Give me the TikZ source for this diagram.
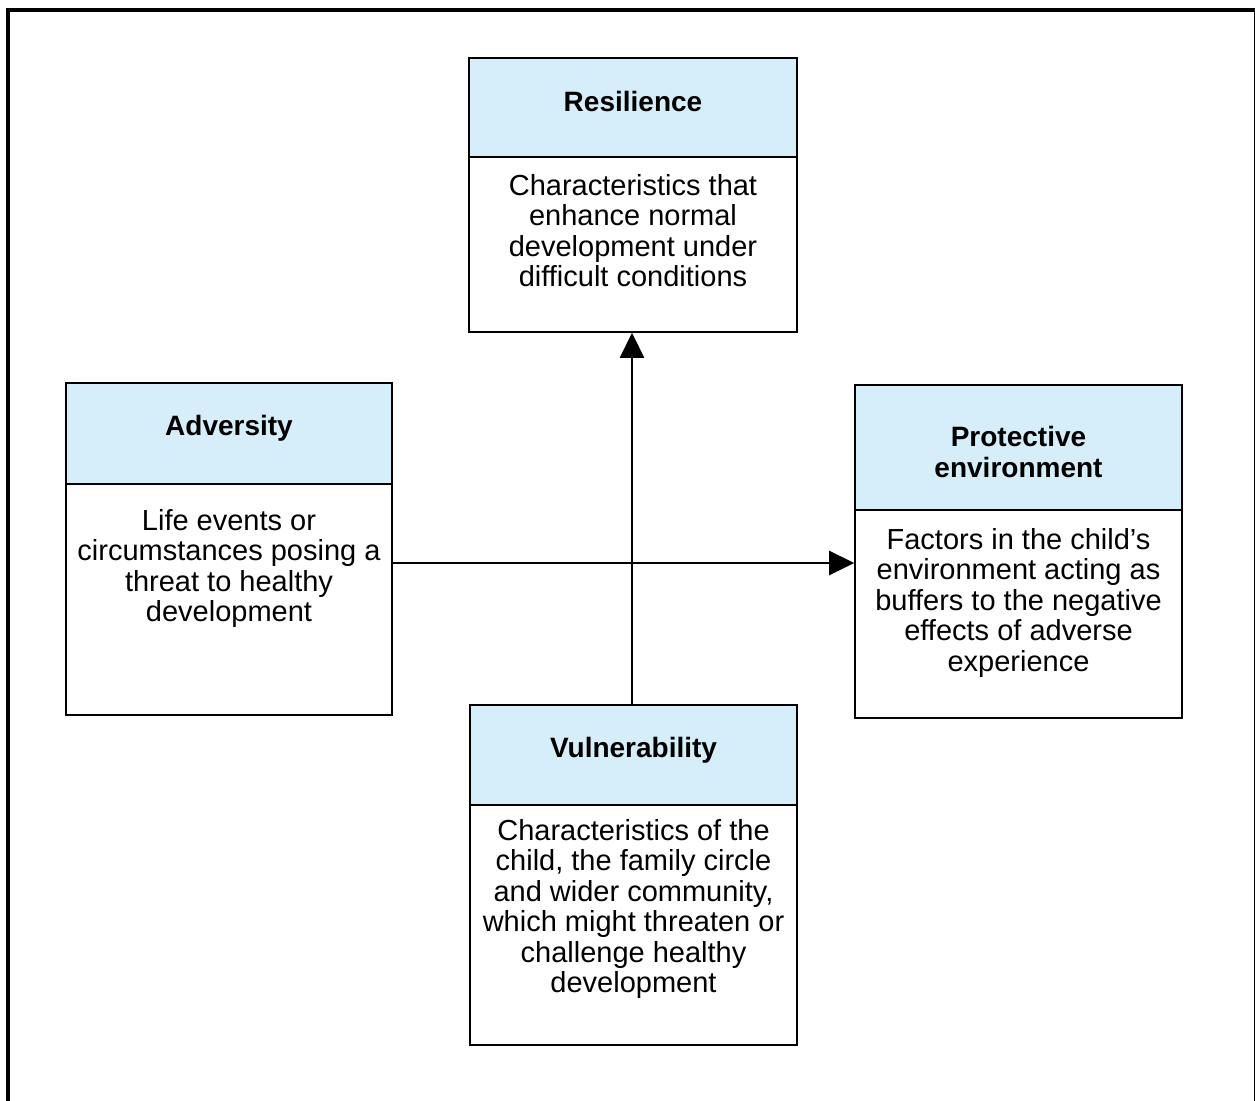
\documentclass[tikz,border=0pt]{standalone}
\usepackage{fontspec}
\setmainfont{Liberation Sans}
\usetikzlibrary{arrows.meta}
\definecolor{hdr}{RGB}{214,238,249}
\begin{document}
\begin{tikzpicture}[x=1pt,y=-1pt,
  hdrbox/.style={fill=hdr, draw=black, line width=1.6pt, inner sep=0pt},
  boxframe/.style={draw=black, line width=1.6pt, inner sep=0pt},
  titletext/.style={font=\fontsize{28}{31}\selectfont\bfseries, align=center, inner sep=0pt, anchor=north},
  bodytext/.style={font=\fontsize{29}{30.5}\selectfont, align=center, inner sep=0pt, anchor=north},
  conn/.style={line width=2.6pt, -{Triangle[length=25pt,width=24pt]}}]
\useasboundingbox (0,0) rectangle (1255,1100);
\clip (0,0) rectangle (1255,1100);
% outer frame
\draw[line width=4pt] (8,1120) -- (8,9.5) -- (1256,9.5) -- (1256,1120);
% Resilience
\node[hdrbox, minimum width=328pt, minimum height=99pt] (resh) at (633,107.5) {};
\node[boxframe, minimum width=328pt, minimum height=274pt] (res) at (633,195) {};
\node[titletext] (rest) at (633,91) {Resilience};
\node[bodytext] (resb) at (633,174) {Characteristics that\\enhance normal\\development under\\difficult conditions};
% Adversity
\node[hdrbox, minimum width=326pt, minimum height=101pt] (advh) at (229,433.5) {};
\node[boxframe, minimum width=326pt, minimum height=332pt] (adv) at (229,549) {};
\node[titletext] (advt) at (229,415) {Adversity};
\node[bodytext] (advb) at (229,509) {Life events or\\circumstances posing a\\threat to healthy\\development};
% Protective environment
\node[hdrbox, minimum width=327pt, minimum height=125pt] (proh) at (1018.5,447.5) {};
\node[boxframe, minimum width=327pt, minimum height=333pt] (pro) at (1018.5,551.5) {};
\node[titletext] (prot) at (1018.5,426) {Protective\\environment};
\node[bodytext] (prob) at (1018.5,528) {Factors in the child’s\\environment acting as\\buffers to the negative\\effects of adverse\\experience};
% Vulnerability
\node[hdrbox, minimum width=327pt, minimum height=100pt] (vulh) at (633.5,755) {};
\node[boxframe, minimum width=327pt, minimum height=340pt] (vul) at (633.5,875) {};
\node[titletext] (vult) at (633.5,737) {Vulnerability};
\node[bodytext] (vulb) at (633.5,819) {Characteristics of the\\child, the family circle\\and wider community,\\which might threaten or\\challenge healthy\\development};
% connectors
\coordinate (vx) at (632,0);
\coordinate (hy) at (0,563);
\draw[conn] (adv.east |- hy) -- (pro.west |- hy);
\draw[conn] (vul.north -| vx) -- (res.south -| vx);
\end{tikzpicture}
\end{document}
